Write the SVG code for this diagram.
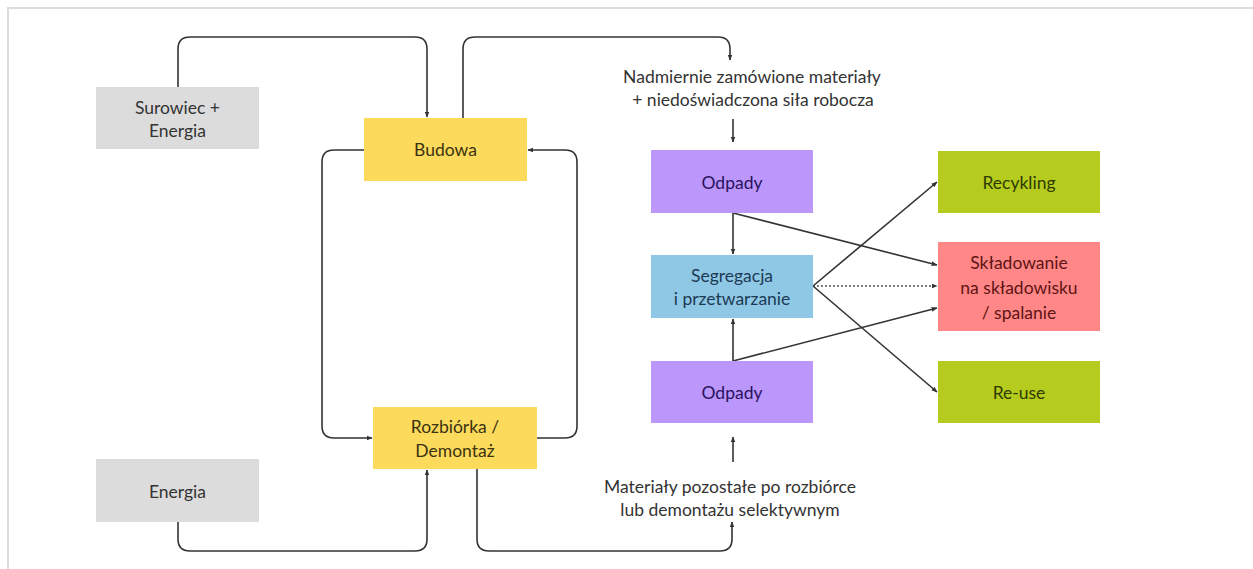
<svg xmlns="http://www.w3.org/2000/svg" width="1253" height="569" viewBox="0 0 1253 569">
<style>
  text { font-family: Lato, "Noto Sans", "Liberation Sans", sans-serif; font-size: 17.5px; text-anchor: middle; }
  .gray { fill: #dcdcdc; }
  .yellow { fill: #fcda5c; }
  .purple { fill: #bb96fb; }
  .blue { fill: #8fc8e4; }
  .green { fill: #b5cc1e; }
  .red { fill: #ff8787; }
  .c { fill: none; stroke: #333; stroke-width: 1.6; }
  .d { fill: none; stroke: #555; stroke-width: 1.6; stroke-dasharray: 2 2; }
</style>
<defs>
  <marker id="ah" viewBox="0 0 10 10" refX="9" refY="5" markerWidth="6" markerHeight="6" markerUnits="userSpaceOnUse" orient="auto">
    <path d="M0,1 L10,5 L0,9 z" fill="#333"/>
  </marker>
</defs>
<rect x="0" y="0" width="1253" height="569" fill="#fff"/>
<path d="M8,569 L8,8 L1253,8" fill="none" stroke="#dddddd" stroke-width="2"/>

<g id="connectors">
  <path class="c" marker-end="url(#ah)" d="M178,87 L178,49 Q178,37 190,37 L415,37 Q427,37 427,49 L427,117"/>
  <path class="c" marker-end="url(#ah)" d="M463,118 L463,49 Q463,37 475,37 L718,37 Q730,37 730,49 L730,60"/>
  <path class="c" marker-end="url(#ah)" d="M733,119 L733,142"/>
  <path class="c" marker-end="url(#ah)" d="M364,150 L334,150 Q322,150 322,162 L322,426 Q322,438 334,438 L372,438"/>
  <path class="c" marker-end="url(#ah)" d="M537,438 L565,438 Q577,438 577,426 L577,162 Q577,150 565,150 L528,150"/>
  <path class="c" marker-end="url(#ah)" d="M178,522 L178,539 Q178,551 190,551 L415,551 Q427,551 427,539 L427,470"/>
  <path class="c" marker-end="url(#ah)" d="M477,469 L477,539 Q477,551 489,551 L720,551 Q732,551 732,539 L732,522"/>
  <path class="c" marker-end="url(#ah)" d="M733,462 L733,437"/>
  <path class="c" marker-end="url(#ah)" d="M733,213 L733,254"/>
  <path class="c" marker-end="url(#ah)" d="M733,213 L937,265"/>
  <path class="c" marker-end="url(#ah)" d="M813,286 L937,182"/>
  <path class="d" marker-end="url(#ah)" d="M813,286 L937,286"/>
  <path class="c" marker-end="url(#ah)" d="M813,286 L937,392"/>
  <path class="c" marker-end="url(#ah)" d="M733,361 L733,319"/>
  <path class="c" marker-end="url(#ah)" d="M733,361 L937,308"/>
</g>

<g id="surowiec">
  <rect class="gray" x="96" y="87" width="163" height="62"/>
  <text x="177.5" y="114" fill="#333">Surowiec +</text>
  <text x="177.5" y="137" fill="#333">Energia</text>
</g>
<g id="energia">
  <rect class="gray" x="96" y="459" width="163" height="63"/>
  <text x="177.5" y="498" fill="#333">Energia</text>
</g>
<g id="budowa">
  <rect class="yellow" x="364" y="118" width="163" height="63"/>
  <text x="445.5" y="156" fill="#3a3210">Budowa</text>
</g>
<g id="rozbiorka">
  <rect class="yellow" x="373" y="407" width="164" height="62"/>
  <text x="455" y="433" fill="#3a3210">Rozbiórka /</text>
  <text x="455" y="457" fill="#3a3210">Demontaż</text>
</g>
<g id="nadmiernie">
  <text x="752" y="83" fill="#333">Nadmiernie zamówione materiały</text>
  <text x="753" y="106" fill="#333">+ niedoświadczona siła robocza</text>
</g>
<g id="odpady1">
  <rect class="purple" x="651" y="150" width="162" height="63"/>
  <text x="732" y="189" fill="#2a1260">Odpady</text>
</g>
<g id="segregacja">
  <rect class="blue" x="651" y="255" width="162" height="63"/>
  <text x="732" y="282" fill="#1d3a55">Segregacja</text>
  <text x="732" y="305" fill="#1d3a55">i przetwarzanie</text>
</g>
<g id="odpady2">
  <rect class="purple" x="651" y="361" width="162" height="62"/>
  <text x="732" y="399" fill="#2a1260">Odpady</text>
</g>
<g id="materialy">
  <text x="730" y="493" fill="#333">Materiały pozostałe po rozbiórce</text>
  <text x="730" y="516" fill="#333">lub demontażu selektywnym</text>
</g>
<g id="recykling">
  <rect class="green" x="938" y="151" width="162" height="62"/>
  <text x="1019" y="189" fill="#2e3a00">Recykling</text>
</g>
<g id="skladowanie">
  <rect class="red" x="938" y="242" width="162" height="89"/>
  <text x="1019" y="269" fill="#5e1414">Składowanie</text>
  <text x="1019" y="294" fill="#5e1414">na składowisku</text>
  <text x="1019" y="319" fill="#5e1414">/ spalanie</text>
</g>
<g id="reuse">
  <rect class="green" x="938" y="361" width="162" height="62"/>
  <text x="1019" y="399" fill="#2e3a00">Re-use</text>
</g>
</svg>
